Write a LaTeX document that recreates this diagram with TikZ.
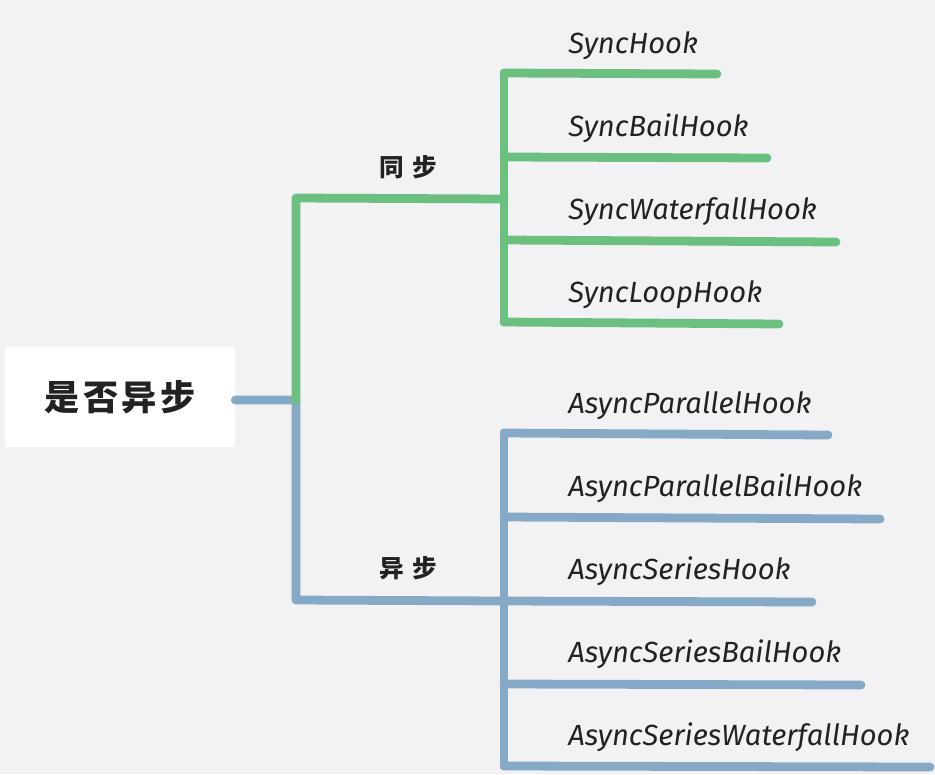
\documentclass[tikz,border=0pt]{standalone}
\usepackage{fontspec}
\setmainfont{Fira Sans}
\newfontfamily\cjk{Noto Sans CJK SC}
\definecolor{paper}{HTML}{F2F2F5}
\definecolor{syncgreen}{HTML}{6CC07F}
\definecolor{asyncblue}{HTML}{86AAC6}
\definecolor{ink}{HTML}{222222}
\begin{document}
\begin{tikzpicture}[x=0.02cm,y=-0.02cm,
	branch/.style={line width=5pt, line cap=round, line join=round},
	hook/.style={anchor=base west, inner sep=0pt, text=ink, font=\itshape\fontsize{16.6}{16.6}\selectfont},
	kind/.style={inner sep=0pt, text=ink, font=\cjk\bfseries\fontsize{14}{14}\selectfont}]
	\fill[paper] (0,0) rectangle (935,774);
	\useasboundingbox (0,0) rectangle (935,774);
	
	%Root
	\node[fill=white, minimum width=4.6cm, minimum height=2cm, text=ink, font=\cjk\bfseries\fontsize{20}{20}\selectfont] (root) at (120,397) {是\hspace{2pt}否\hspace{2pt}异\hspace{2pt}步};
	\coordinate (fork) at (296,400);
	\coordinate (syncT) at (296,198);
	\coordinate (asyncB) at (296,600);
	\coordinate (syncJ) at (504,199);
	\coordinate (asyncJ) at (504,601);
	
	%Two kinds
	\node[kind] (sync) at (408,167) {同\hspace{5pt}步};
	\node[kind] (async) at (408,568) {异\hspace{5pt}步};
	\draw[branch, asyncblue] (root.east |- fork) -- (fork) -- (asyncB) -- (asyncJ);
	\draw[branch, syncgreen] (fork) -- (syncT) -- (syncJ);
	
	%Sync hooks
	\coordinate (s1) at (504,73);  \coordinate (s1e) at (717,74);
	\coordinate (s2) at (504,157); \coordinate (s2e) at (767,158);
	\coordinate (s3) at (504,240); \coordinate (s3e) at (836,242);
	\coordinate (s4) at (504,322); \coordinate (s4e) at (779,324);
	\node[hook] (SyncHook) at (568,53) {SyncHook};
	\node[hook] (SyncBailHook) at (568,136) {SyncBailHook};
	\node[hook] (SyncWaterfallHook) at (568,219) {SyncWaterfallHook};
	\node[hook] (SyncLoopHook) at (568,302) {SyncLoopHook};
	\draw[branch, syncgreen] (s1) -- (s4);
	\draw[branch, syncgreen] (s1) -- (s1e);
	\draw[branch, syncgreen] (s2) -- (s2e);
	\draw[branch, syncgreen] (s3) -- (s3e);
	\draw[branch, syncgreen] (s4) -- (s4e);
	
	%Async hooks
	\coordinate (a1) at (504,433); \coordinate (a1e) at (828,435);
	\coordinate (a2) at (504,517); \coordinate (a2e) at (880,519);
	\coordinate (a3) at (504,601); \coordinate (a3e) at (812,602);
	\coordinate (a4) at (504,684); \coordinate (a4e) at (861,685);
	\coordinate (a5) at (504,766); \coordinate (a5e) at (930,767);
	\node[hook] (AsyncParallelHook) at (568,413) {AsyncParallelHook};
	\node[hook] (AsyncParallelBailHook) at (568,496) {AsyncParallelBailHook};
	\node[hook] (AsyncSeriesHook) at (568,579) {AsyncSeriesHook};
	\node[hook] (AsyncSeriesBailHook) at (568,662) {AsyncSeriesBailHook};
	\node[hook] (AsyncSeriesWaterfallHook) at (568,745) {AsyncSeriesWaterfallHook};
	\draw[branch, asyncblue] (a1) -- (a5);
	\draw[branch, asyncblue] (a1) -- (a1e);
	\draw[branch, asyncblue] (a2) -- (a2e);
	\draw[branch, asyncblue] (a3) -- (a3e);
	\draw[branch, asyncblue] (a4) -- (a4e);
	\draw[branch, asyncblue] (a5) -- (a5e);
\end{tikzpicture}
\end{document}
